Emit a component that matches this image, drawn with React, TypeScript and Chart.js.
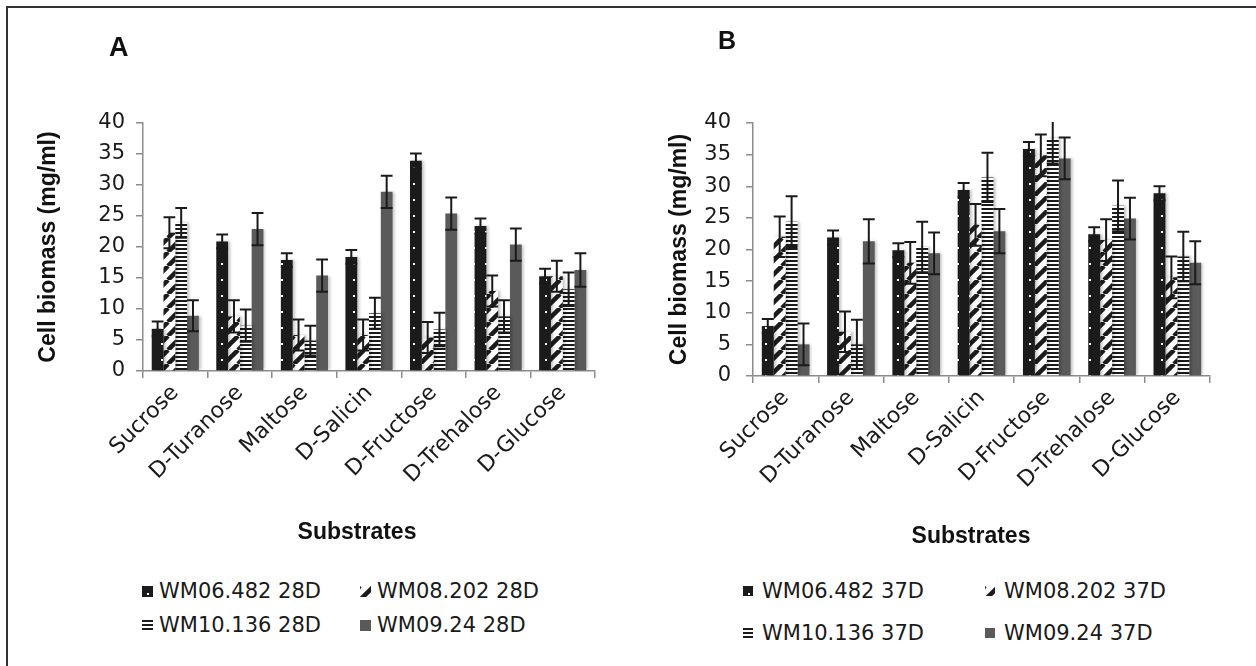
import React, { useEffect, useRef } from "react";
import { Chart, registerables } from "chart.js";
Chart.register(...registerables);

// ---------- data ----------
const categories = ["Sucrose", "D-Turanose", "Maltose", "D-Salicin", "D-Fructose", "D-Trehalose", "D-Glucose"];
const yTickValues = [0, 5, 10, 15, 20, 25, 30, 35, 40];
const xAxisTitle = "Substrates";
const yAxisTitle = "Cell biomass (mg/ml)";

const labelsA = ["WM06.482 28D", "WM08.202 28D", "WM10.136 28D", "WM09.24 28D"];
const a_wm06 = [6.8, 20.9, 17.9, 18.4, 33.9, 23.4, 15.3];
const a_wm06_err = [1.2, 1.1, 1.1, 1.1, 1.2, 1.2, 1.2];
const a_wm08 = [22.3, 8.8, 5.8, 5.8, 5.4, 12.9, 15.3];
const a_wm08_err = [2.5, 2.6, 2.5, 2.5, 2.5, 2.5, 2.5];
const a_wm10 = [23.9, 7.3, 4.9, 9.3, 6.7, 8.8, 13.2];
const a_wm10_err = [2.4, 2.6, 2.4, 2.5, 2.7, 2.6, 2.7];
const a_wm09 = [8.9, 22.9, 15.4, 28.9, 25.4, 20.4, 16.3];
const a_wm09_err = [2.5, 2.6, 2.6, 2.6, 2.6, 2.6, 2.7];

const labelsB = ["WM06.482 37D", "WM08.202 37D", "WM10.136 37D", "WM09.24 37D"];
const b_wm06 = [7.9, 21.9, 19.9, 29.4, 35.9, 22.4, 28.9];
const b_wm06_err = [1.1, 1.1, 1.1, 1.1, 1.1, 1.1, 1.1];
const b_wm08 = [22.0, 7.0, 17.9, 23.9, 34.9, 21.5, 15.6];
const b_wm08_err = [3.2, 3.2, 3.3, 3.3, 3.3, 3.3, 3.3];
const b_wm10 = [24.4, 5.0, 20.4, 31.4, 37.6, 26.9, 18.9];
const b_wm10_err = [4.0, 3.9, 4.0, 3.9, 4.0, 4.0, 3.9];
const b_wm09 = [5.0, 21.3, 19.4, 22.9, 34.4, 24.9, 17.9];
const b_wm09_err = [3.3, 3.5, 3.3, 3.5, 3.3, 3.3, 3.4];

// ---------- styles ----------
const INK = "#1b1b1b";
const GRAY = "#5a5a5a";
const AXIS = "#8c8c8c";
const REG_FONT = "'DejaVu Sans', sans-serif";
const BOLD_FONT = "'Liberation Sans', Arial, sans-serif";

function makePatterns(ctx: CanvasRenderingContext2D): (CanvasPattern | string)[] {
  const mk = (w: number, h: number, draw: (g: CanvasRenderingContext2D) => void) => {
    const c = document.createElement("canvas");
    c.width = w;
    c.height = h;
    const g = c.getContext("2d")!;
    draw(g);
    return ctx.createPattern(c, "repeat")!;
  };
  const dots = mk(12, 16, (g) => {
    g.fillStyle = INK;
    g.fillRect(0, 0, 12, 16);
    g.fillStyle = "#ffffff";
    g.fillRect(5, 7, 2, 2);
  });
  const diag = mk(14, 14, (g) => {
    g.fillStyle = "#ffffff";
    g.fillRect(0, 0, 14, 14);
    g.strokeStyle = INK;
    g.lineWidth = 4.5;
    for (const o of [-14, 0, 14]) {
      g.beginPath();
      g.moveTo(o, 14);
      g.lineTo(o + 14, 0);
      g.stroke();
    }
  });
  const horiz = mk(4, 4, (g) => {
    g.fillStyle = "#ffffff";
    g.fillRect(0, 0, 4, 4);
    g.fillStyle = INK;
    g.fillRect(0, 0, 4, 2);
  });
  return [dots, diag, horiz, GRAY];
}

const errorBarPlugin = {
  id: "errorBars",
  beforeDatasetsDraw(chart: any) {
    const ctx = chart.ctx;
    ctx.save();
    ctx.shadowColor = "rgba(0,0,0,0.25)";
    ctx.shadowBlur = 3;
    ctx.shadowOffsetX = 2;
    ctx.shadowOffsetY = 0;
  },
  afterDatasetsDraw(chart: any) {
    const ctx = chart.ctx;
    ctx.restore();
    const { chartArea } = chart;
    const y = chart.scales.y;
    ctx.save();
    ctx.beginPath();
    ctx.rect(chartArea.left, chartArea.top - 1, chartArea.right - chartArea.left, chartArea.bottom - chartArea.top + 1);
    ctx.clip();
    ctx.strokeStyle = "#1a1a1a";
    ctx.lineWidth = 2;
    chart.data.datasets.forEach((ds: any, di: number) => {
      const meta = chart.getDatasetMeta(di);
      meta.data.forEach((bar: any, i: number) => {
        const v = ds.data[i];
        const e = ds.errors[i];
        const x = bar.x;
        const top = y.getPixelForValue(v + e);
        const bot = y.getPixelForValue(v - e);
        const half = bar.width / 2;
        ctx.beginPath();
        ctx.moveTo(x, top);
        ctx.lineTo(x, bot);
        ctx.moveTo(x - half, top);
        ctx.lineTo(x + half, top);
        ctx.moveTo(x - half, bot);
        ctx.lineTo(x + half, bot);
        ctx.stroke();
      });
    });
    ctx.restore();
  },
};

type PanelSpec = {
  labels: string[];
  values: number[][];
  errors: number[][];
  pad: { left: number; right: number; top: number; bottom: number };
  yWidth: number;
  xHeight: number;
  yTickPad: number;
};

const panelA: PanelSpec = {
  labels: labelsA,
  values: [a_wm06, a_wm08, a_wm10, a_wm09],
  errors: [a_wm06_err, a_wm08_err, a_wm10_err, a_wm09_err],
  pad: { left: 35, right: 33, top: 123, bottom: 15 },
  yWidth: 108,
  xHeight: 174,
  yTickPad: 11,
};

const panelB: PanelSpec = {
  labels: labelsB,
  values: [b_wm06, b_wm08, b_wm10, b_wm09],
  errors: [b_wm06_err, b_wm08_err, b_wm10_err, b_wm09_err],
  pad: { left: 38, right: 46, top: 123, bottom: 11 },
  yWidth: 87,
  xHeight: 173,
  yTickPad: 15,
};

function buildConfig(p: PanelSpec, patterns: (CanvasPattern | string)[]): any {
  return {
    type: "bar",
    data: {
      labels: categories,
      datasets: p.labels.map((label, k) => ({
        label,
        data: p.values[k],
        errors: p.errors[k],
        backgroundColor: patterns[k],
        borderWidth: 0,
        categoryPercentage: 0.73,
        barPercentage: 1.0,
      })),
    },
    options: {
      responsive: false,
      animation: false,
      devicePixelRatio: 1,
      layout: { padding: p.pad },
      plugins: { legend: { display: false }, tooltip: { enabled: false } },
      scales: {
        x: {
          grid: { display: true, drawOnChartArea: false, offset: true, tickLength: 7, color: AXIS, lineWidth: 1.5 },
          border: { display: true, color: AXIS, width: 1.5 },
          ticks: {
            font: { family: REG_FONT, size: 22 },
            color: "#1a1a1a",
            minRotation: 45,
            maxRotation: 45,
            autoSkip: false,
            padding: 2,
          },
          title: { display: false },
          afterFit: (s: any) => {
            s.height = p.xHeight;
          },
        },
        y: {
          min: 0,
          max: 40,
          afterBuildTicks: (s: any) => {
            s.ticks = yTickValues.map((v) => ({ value: v }));
          },
          grid: { display: true, drawOnChartArea: false, tickLength: 7, color: AXIS, lineWidth: 1.5 },
          border: { display: true, color: AXIS, width: 1.5 },
          ticks: {
            font: { family: REG_FONT, size: 21 },
            color: "#1a1a1a",
            padding: p.yTickPad,
          },
          title: {
            display: true,
            text: yAxisTitle,
            font: { family: BOLD_FONT, size: 23, weight: "bold" },
            color: "#111",
            padding: { top: 0, bottom: 0 },
          },
          afterFit: (s: any) => {
            s.width = p.yWidth;
          },
        },
      },
    },
    plugins: [errorBarPlugin],
  };
}

function Panel({ spec, left }: { spec: PanelSpec; left: number }) {
  const ref = useRef<HTMLCanvasElement>(null);
  useEffect(() => {
    const canvas = ref.current!;
    const ctx = canvas.getContext("2d")!;
    const chart = new Chart(canvas, buildConfig(spec, makePatterns(ctx)));
    return () => chart.destroy();
  }, []);
  return (
    <canvas
      ref={ref}
      width={628}
      height={560}
      style={{ position: "absolute", left, top: 0, width: 628, height: 560, display: "block" }}
    />
  );
}

function Swatch({ k, size }: { k: number; size: number }) {
  const ref = useRef<HTMLCanvasElement>(null);
  useEffect(() => {
    const c = ref.current!;
    const ctx = c.getContext("2d")!;
    const pats = makePatterns(ctx);
    ctx.clearRect(0, 0, size, size);
    ctx.fillStyle = pats[k] as any;
    ctx.fillRect(0, 0, size, size);
  }, []);
  return <canvas ref={ref} width={size} height={size} style={{ display: "block", width: size, height: size }} />;
}

type LegendLayout = { cols: number[]; textGap: number; rows: number[]; size: number };

function Legend({ labels, layout }: { labels: string[]; layout: LegendLayout }) {
  return (
    <>
      {labels.map((lab, k) => {
        const col = k % 2;
        const row = Math.floor(k / 2);
        return (
          <div
            key={lab}
            style={{
              position: "absolute",
              left: layout.cols[col],
              top: layout.rows[row] - 12,
              height: 24,
              display: "flex",
              alignItems: "center",
              fontFamily: REG_FONT,
              fontSize: 21,
              lineHeight: "24px",
              color: "#1a1a1a",
              whiteSpace: "nowrap",
            }}
          >
            <Swatch k={k} size={layout.size} />
            <span style={{ marginLeft: layout.textGap }}>{lab}</span>
          </div>
        );
      })}
    </>
  );
}

function XTitle({ cx, cy }: { cx: number; cy: number }) {
  return (
    <div
      style={{
        position: "absolute",
        left: cx - 150,
        width: 300,
        top: cy - 14,
        textAlign: "center",
        fontFamily: BOLD_FONT,
        fontWeight: "bold",
        fontSize: 23,
        lineHeight: "28px",
        color: "#111",
      }}
    >
      {xAxisTitle}
    </div>
  );
}

export default function App() {
  return (
    <div
      style={{
        position: "fixed",
        left: 0,
        top: 0,
        width: 1256,
        height: 666,
        overflow: "hidden",
        background: "#fff",
      }}
    >
      <div
        style={{
          position: "absolute",
          left: 6,
          top: 6,
          width: 1300,
          height: 700,
          borderTop: "2px solid #333",
          borderLeft: "2px solid #333",
        }}
      />
      <Panel spec={panelA} left={0} />
      <Panel spec={panelB} left={628} />
      <div
        style={{
          position: "absolute",
          left: 109,
          top: 32,
          fontFamily: BOLD_FONT,
          fontWeight: "bold",
          fontSize: 27,
          lineHeight: "30px",
          color: "#111",
        }}
      >
        A
      </div>
      <div
        style={{
          position: "absolute",
          left: 718,
          top: 25,
          fontFamily: BOLD_FONT,
          fontWeight: "bold",
          fontSize: 25,
          lineHeight: "30px",
          color: "#111",
        }}
      >
        B
      </div>
      <XTitle cx={357} cy={531} />
      <XTitle cx={971} cy={535} />
      <Legend labels={labelsA} layout={{ cols: [142, 360], textGap: 6, rows: [591, 625], size: 11 }} />
      <Legend labels={labelsB} layout={{ cols: [743, 985], textGap: 9, rows: [591, 633], size: 10 }} />
    </div>
  );
}
